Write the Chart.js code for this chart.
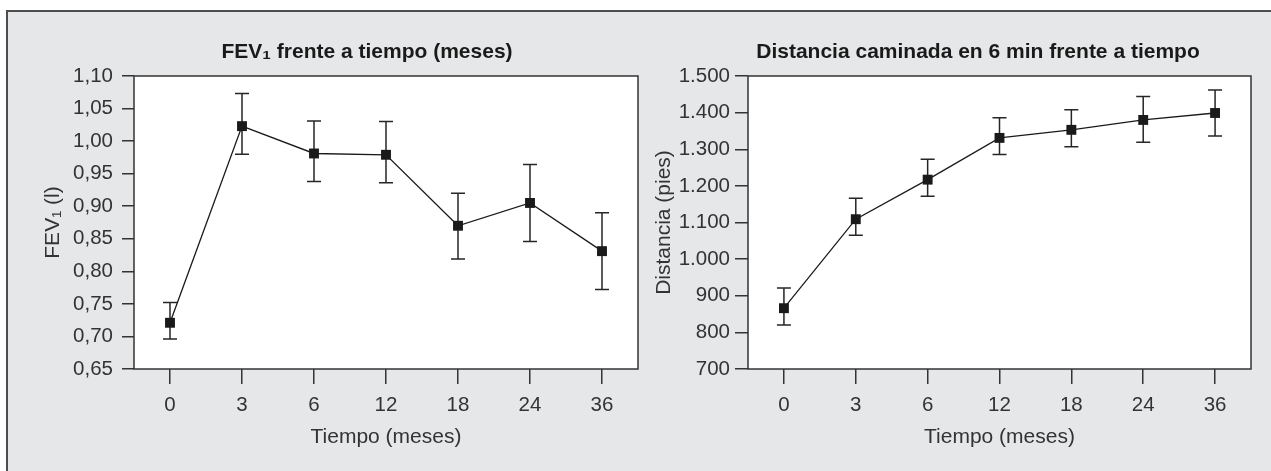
<!DOCTYPE html>
<html><head><meta charset="utf-8">
<script src="https://cdn.jsdelivr.net/npm/chart.js@4.4.1/dist/chart.umd.min.js"></script>
<style>
html,body{margin:0;padding:0;background:#fff;width:1271px;height:471px;overflow:hidden;position:relative;}
#frame{position:absolute;left:6px;top:10px;width:1300px;height:520px;border:2px solid #4d4d4d;background:#e6e7e8;box-sizing:border-box;}
canvas{position:absolute;top:0;}
#c1{left:0}
#c2{left:645px}
</style></head><body>
<div id="frame"></div>
<canvas id="c1" width="734" height="471"></canvas>
<canvas id="c2" width="666" height="471"></canvas>
<script>
// ---- data ----
const timeLabels = ['0', '3', '6', '12', '18', '24', '36'];

const fevMean  = [0.721, 1.023, 0.981, 0.979, 0.870, 0.905, 0.831];
const fevUpper = [0.752, 1.073, 1.031, 1.030, 0.920, 0.964, 0.890];
const fevLower = [0.696, 0.980, 0.938, 0.936, 0.819, 0.846, 0.772];
const fevTicks = [0.65, 0.70, 0.75, 0.80, 0.85, 0.90, 0.95, 1.00, 1.05, 1.10];
const fevTickLabels = ['0,65', '0,70', '0,75', '0,80', '0,85', '0,90', '0,95', '1,00', '1,05', '1,10'];

const distMean  = [866, 1109, 1217, 1331, 1353, 1380, 1399];
const distUpper = [921, 1166, 1273, 1386, 1408, 1444, 1462];
const distLower = [820, 1065, 1172, 1286, 1307, 1319, 1336];
const distTicks = [700, 800, 900, 1000, 1100, 1200, 1300, 1400, 1500];
const distTickLabels = ['700', '800', '900', '1.000', '1.100', '1.200', '1.300', '1.400', '1.500'];

// ---- styling ----
const FAMILY = '"Liberation Sans", Arial, Helvetica, sans-serif';
const textColor = '#333333';
const tickFont = {family: FAMILY, size: 20.5, lineHeight: 1.2};
const axisFont = {family: FAMILY, size: 21, lineHeight: 1.2};
const titleFont = {family: FAMILY, size: 21, weight: 'bold', lineHeight: 1.2};

const panel = {
  id: 'panel',
  beforeDraw(chart) {
    const {ctx, chartArea: a} = chart;
    ctx.save();
    ctx.fillStyle = '#ffffff';
    ctx.fillRect(a.left, a.top, a.right - a.left, a.bottom - a.top);
    ctx.restore();
  },
  beforeDatasetsDraw(chart, args, o) {
    const {ctx} = chart;
    const xs = chart.scales.x, ys = chart.scales.y;
    ctx.save();
    ctx.strokeStyle = '#262626';
    ctx.lineWidth = 1.5;
    o.lower.forEach((lo, i) => {
      const px = xs.getPixelForValue(i);
      const yl = ys.getPixelForValue(lo);
      const yh = ys.getPixelForValue(o.upper[i]);
      ctx.beginPath();
      ctx.moveTo(px, yh); ctx.lineTo(px, yl);
      ctx.moveTo(px - o.cap, yh); ctx.lineTo(px + o.cap, yh);
      ctx.moveTo(px - o.cap, yl); ctx.lineTo(px + o.cap, yl);
      ctx.stroke();
    });
    ctx.restore();
  },
  afterDraw(chart) {
    const {ctx, chartArea: a} = chart;
    ctx.save();
    ctx.strokeStyle = '#333333';
    ctx.lineWidth = 1.5;
    ctx.strokeRect(a.left, a.top, a.right - a.left, a.bottom - a.top);
    ctx.restore();
  }
};

function makeChart(id, cfg) {
  return new Chart(document.getElementById(id), {
    type: 'line',
    data: {
      labels: timeLabels,
      datasets: [{
        data: cfg.mean,
        yAxisID: 'y',
        borderColor: '#1a1a1a',
        borderWidth: 1.3,
        tension: 0,
        fill: false,
        pointStyle: 'rect',
        pointRadius: 7,
        pointHoverRadius: 7,
        pointBackgroundColor: '#1a1a1a',
        pointBorderWidth: 0
      }]
    },
    options: {
      responsive: false,
      animation: false,
      layout: {padding: {left: 0, right: 0, top: 0, bottom: 0}},
      plugins: {
        legend: {display: false},
        tooltip: {enabled: false},
        title: {
          display: true, text: cfg.title, font: titleFont, color: '#1a1a1a',
          padding: {top: 40, bottom: 10.8}
        },
        panel: {lower: cfg.lower, upper: cfg.upper, cap: 7}
      },
      scales: {
        x: {
          type: 'category',
          offset: true,
          grid: {offset: false, drawOnChartArea: false, drawTicks: true, tickLength: 15, color: '#333', lineWidth: 1.5},
          border: {display: false},
          ticks: {padding: 9, font: tickFont, color: textColor, maxRotation: 0, autoSkip: false},
          title: {display: true, text: 'Tiempo (meses)', font: axisFont, color: textColor, padding: {top: 0, bottom: 21.4}},
          afterFit(s) { s.height = 102; }
        },
        y: {
          type: 'linear',
          position: 'left',
          min: cfg.ticks[0],
          max: cfg.ticks[cfg.ticks.length - 1],
          afterBuildTicks(s) { s.ticks = cfg.ticks.map(v => ({value: v})); },
          grid: {drawOnChartArea: false, drawTicks: true, tickLength: cfg.tickLen, color: '#333', lineWidth: 1.5},
          border: {display: false},
          ticks: {callback: (v, i) => cfg.tickLabels[i], padding: cfg.tickPad, font: tickFont, color: textColor},
          title: {display: true, text: cfg.yTitle, font: axisFont, color: textColor, padding: {top: cfg.yTitlePad, bottom: 0}},
          afterFit(s) { s.width = cfg.yWidth; }
        },
        // empty spacer on the right so that the panel title is centred over the whole panel
        spacer: {
          type: 'linear',
          position: 'right',
          display: true,
          grid: {display: false},
          border: {display: false},
          ticks: {display: false},
          afterFit(s) { s.width = cfg.spacer; }
        }
      }
    },
    plugins: [panel]
  });
}

makeChart('c1', {
  mean: fevMean, lower: fevLower, upper: fevUpper,
  ticks: fevTicks, tickLabels: fevTickLabels,
  title: 'FEV\u2081 frente a tiempo (meses)', yTitle: 'FEV\u2081 (l)',
  yWidth: 134, yTitlePad: 40.4, spacer: 96, tickLen: 12, tickPad: 9
});

makeChart('c2', {
  mean: distMean, lower: distLower, upper: distUpper,
  ticks: distTicks, tickLabels: distTickLabels,
  title: 'Distancia caminada en 6 min frente a tiempo', yTitle: 'Distancia (pies)',
  yWidth: 103, yTitlePad: 6.4, spacer: 60, tickLen: 13, tickPad: 5
});
</script></body></html>
